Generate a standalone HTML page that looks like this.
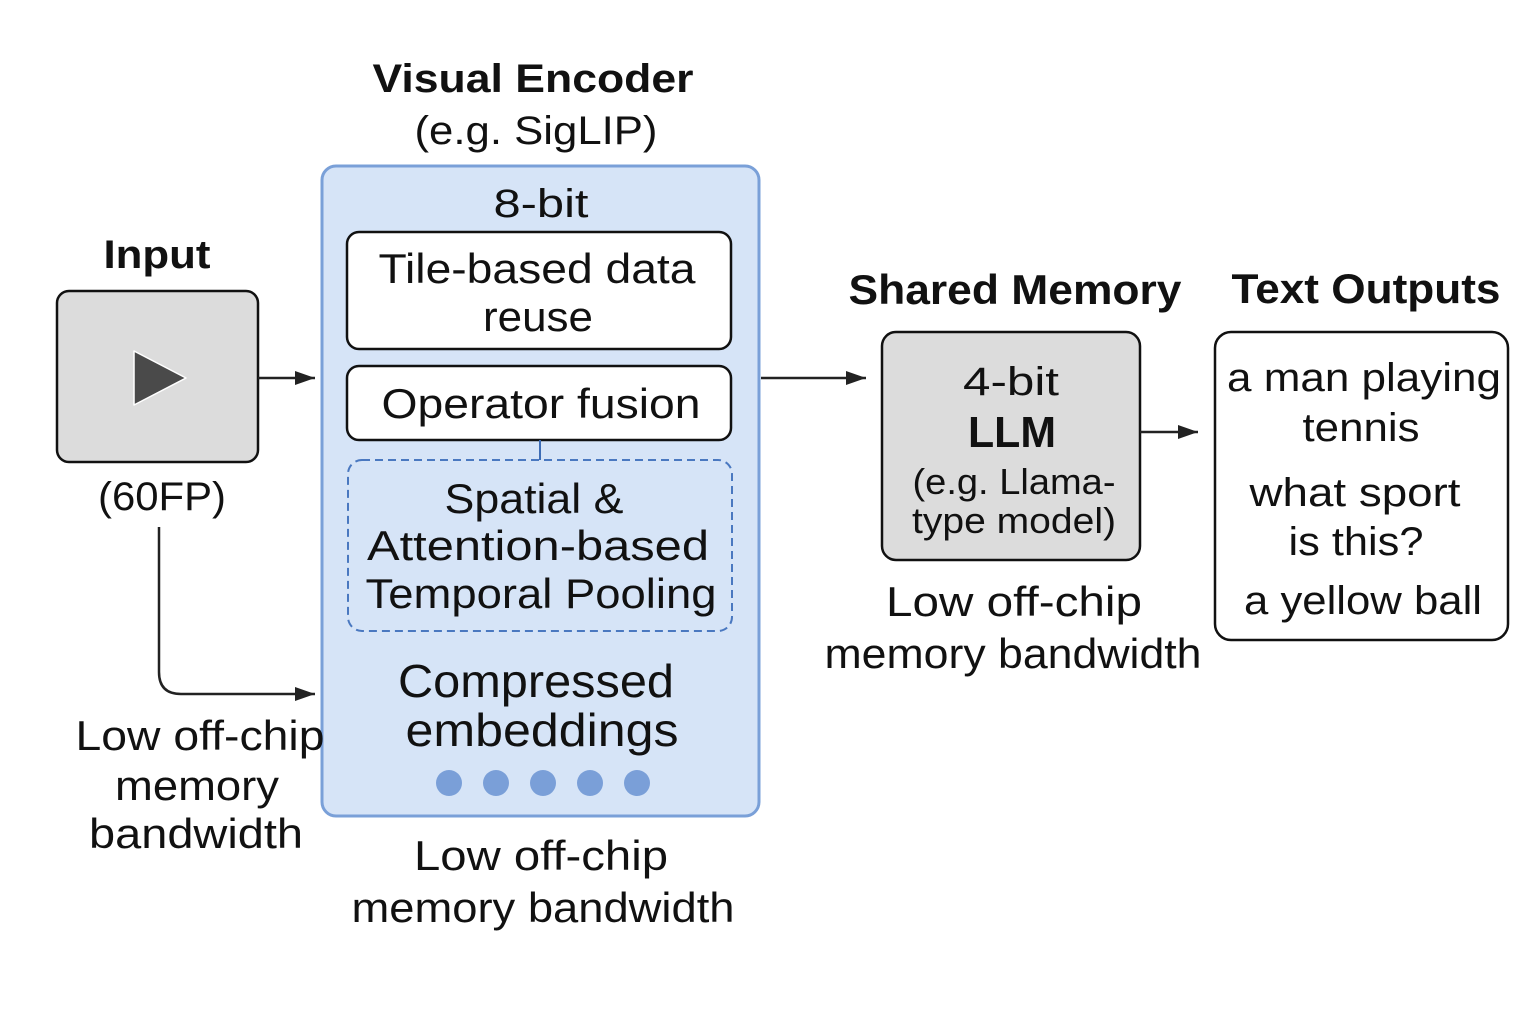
<!DOCTYPE html>
<html><head><meta charset="utf-8"><style>html,body{margin:0;padding:0;background:#fff}svg{display:block}text{font-family:"Liberation Sans",sans-serif;fill:#111}</style></head>
<body>
<svg width="1536" height="1024" viewBox="0 0 1536 1024" xmlns="http://www.w3.org/2000/svg">
<defs><marker id="ah" markerWidth="10" markerHeight="10" refX="9" refY="5" orient="auto" markerUnits="userSpaceOnUse"><path d="M0,0 L20,5 L0,10 z" transform="scale(1)" fill="#222"/></marker>
<marker id="a" viewBox="0 0 20 14" markerWidth="20" markerHeight="14" refX="20" refY="7" orient="auto" markerUnits="userSpaceOnUse"><path d="M0,0 L20,7 L0,14 z" fill="#222"/></marker></defs>
<g text-anchor="middle" lengthAdjust="spacingAndGlyphs">
<!-- Visual encoder title -->
<text x="533" y="92" font-size="40" font-weight="bold" textLength="321" lengthAdjust="spacingAndGlyphs">Visual Encoder</text>
<text x="536" y="144" font-size="40" textLength="243" lengthAdjust="spacingAndGlyphs">(e.g. SigLIP)</text>
<rect x="322" y="166" width="437" height="650" rx="14" fill="#d6e4f7" stroke="#7aa0d8" stroke-width="3"/>
<text x="541" y="217" font-size="40" textLength="95" lengthAdjust="spacingAndGlyphs">8-bit</text>
<rect x="347" y="232" width="384" height="117" rx="12" fill="#fff" stroke="#111" stroke-width="2.5"/>
<text x="537" y="283" font-size="42" textLength="317" lengthAdjust="spacingAndGlyphs">Tile-based data</text>
<text x="538" y="331" font-size="42" textLength="110" lengthAdjust="spacingAndGlyphs">reuse</text>
<rect x="347" y="366" width="384" height="74" rx="12" fill="#fff" stroke="#111" stroke-width="2.5"/>
<text x="541" y="418" font-size="42" textLength="319" lengthAdjust="spacingAndGlyphs">Operator fusion</text>
<line x1="540" y1="440" x2="540" y2="460" stroke="#3d6cb5" stroke-width="2"/>
<rect x="348" y="460" width="384" height="171" rx="14" fill="none" stroke="#4a78c0" stroke-width="2" stroke-dasharray="8 5"/>
<text x="534" y="513" font-size="42" textLength="179" lengthAdjust="spacingAndGlyphs">Spatial &amp;</text>
<text x="538" y="560" font-size="42" textLength="342" lengthAdjust="spacingAndGlyphs">Attention-based</text>
<text x="541" y="608" font-size="42" textLength="351" lengthAdjust="spacingAndGlyphs">Temporal Pooling</text>
<text x="536" y="697" font-size="46" textLength="276" lengthAdjust="spacingAndGlyphs">Compressed</text>
<text x="542" y="746" font-size="46" textLength="273" lengthAdjust="spacingAndGlyphs">embeddings</text>
<g fill="#7a9fd8"><circle cx="449" cy="783" r="13"/><circle cx="496" cy="783" r="13"/><circle cx="543" cy="783" r="13"/><circle cx="590" cy="783" r="13"/><circle cx="637" cy="783" r="13"/></g>
<text x="541" y="870" font-size="42" textLength="254" lengthAdjust="spacingAndGlyphs">Low off-chip</text>
<text x="543" y="922" font-size="42" textLength="383" lengthAdjust="spacingAndGlyphs">memory bandwidth</text>
<!-- Input -->
<text x="157" y="268" font-size="40" font-weight="bold" textLength="107" lengthAdjust="spacingAndGlyphs">Input</text>
<rect x="57" y="291" width="201" height="171" rx="12" fill="#dcdcdc" stroke="#111" stroke-width="2.5"/>
<path d="M134,351 L186,378 L134,405 z" fill="#4a4a4a" stroke="#fff" stroke-width="1.5" stroke-linejoin="round"/>
<text x="162" y="510" font-size="40" textLength="128" lengthAdjust="spacingAndGlyphs">(60FP)</text>
<line x1="258" y1="378" x2="315" y2="378" stroke="#222" stroke-width="2.5" marker-end="url(#a)"/>
<path d="M159,527 L159,672 Q159,694 181,694 L315,694" fill="none" stroke="#222" stroke-width="2.5" marker-end="url(#a)"/>
<text x="200" y="750" font-size="42" textLength="249" lengthAdjust="spacingAndGlyphs">Low off-chip</text>
<text x="197" y="800" font-size="42" textLength="164" lengthAdjust="spacingAndGlyphs">memory</text>
<text x="196" y="848" font-size="42" textLength="214" lengthAdjust="spacingAndGlyphs">bandwidth</text>
<!-- Shared memory -->
<line x1="761" y1="378" x2="866" y2="378" stroke="#222" stroke-width="2.5" marker-end="url(#a)"/>
<text x="1015" y="304" font-size="42" font-weight="bold" textLength="333" lengthAdjust="spacingAndGlyphs">Shared Memory</text>
<rect x="882" y="332" width="258" height="228" rx="14" fill="#dcdcdc" stroke="#111" stroke-width="2.5"/>
<text x="1011" y="395" font-size="40" textLength="96" lengthAdjust="spacingAndGlyphs">4-bit</text>
<text x="1012" y="447" font-size="44" font-weight="bold" textLength="88" lengthAdjust="spacingAndGlyphs">LLM</text>
<text x="1014" y="494" font-size="36" textLength="203" lengthAdjust="spacingAndGlyphs">(e.g. Llama-</text>
<text x="1014" y="533" font-size="36" textLength="204" lengthAdjust="spacingAndGlyphs">type model)</text>
<text x="1014" y="616" font-size="42" textLength="256" lengthAdjust="spacingAndGlyphs">Low off-chip</text>
<text x="1013" y="668" font-size="42" textLength="377" lengthAdjust="spacingAndGlyphs">memory bandwidth</text>
<line x1="1140" y1="432" x2="1198" y2="432" stroke="#222" stroke-width="2.5" marker-end="url(#a)"/>
<!-- Text outputs -->
<text x="1366" y="303" font-size="42" font-weight="bold" textLength="269" lengthAdjust="spacingAndGlyphs">Text Outputs</text>
<rect x="1215" y="332" width="293" height="308" rx="16" fill="#fff" stroke="#111" stroke-width="2.5"/>
<text x="1364" y="391" font-size="40" textLength="274" lengthAdjust="spacingAndGlyphs">a man playing</text>
<text x="1361" y="441" font-size="40" textLength="117" lengthAdjust="spacingAndGlyphs">tennis</text>
<text x="1355" y="506" font-size="40" textLength="211" lengthAdjust="spacingAndGlyphs">what sport</text>
<text x="1356" y="555" font-size="40" textLength="135" lengthAdjust="spacingAndGlyphs">is this?</text>
<text x="1363" y="614" font-size="40" textLength="238" lengthAdjust="spacingAndGlyphs">a yellow ball</text>
</g>
</svg>
</body></html>
